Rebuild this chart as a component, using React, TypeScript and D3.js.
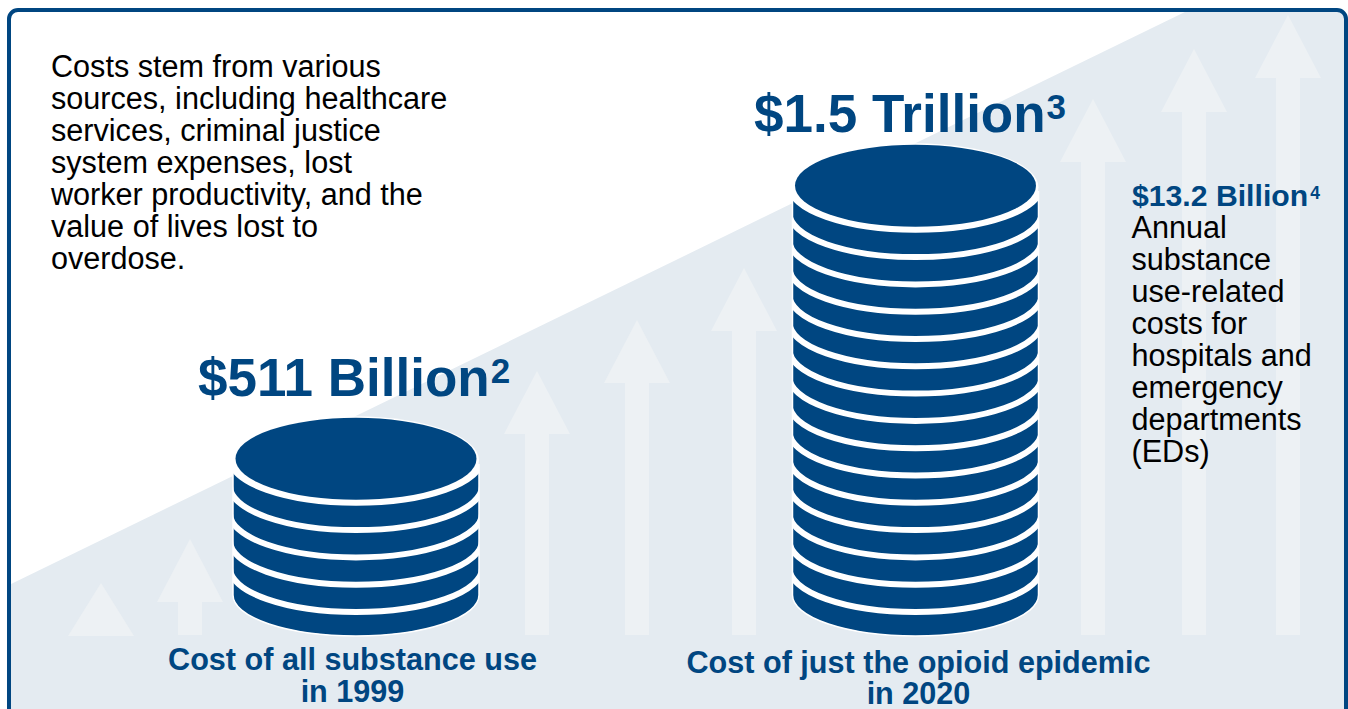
import React from "react";
import * as d3 from "d3";

// Costs in billions of dollars; one coin in a stack stands for about 100 billion.
const stackLabels = ["$511 Billion", "$1.5 Trillion"];
const stackFootnotes = ["2", "3"];
const stackValues = [511, 1500];
const stackCaptions = [
  ["Cost of all substance use", "in 1999"],
  ["Cost of just the opioid epidemic", "in 2020"],
];
const introLines = [
  "Costs stem from various",
  "sources, including healthcare",
  "services, criminal justice",
  "system expenses, lost",
  "worker productivity, and the",
  "value of lives lost to",
  "overdose.",
];
const sideLabel = "$13.2 Billion";
const sideFootnote = "4";
const sideLines = [
  "Annual",
  "substance",
  "use-related",
  "costs for",
  "hospitals and",
  "emergency",
  "departments",
  "(EDs)",
];

// Decorative rising arrows: horizontal centre and tip height above the floor.
const arrowCentres = [101, 190, 537, 637, 744, 1093, 1194, 1288];
const arrowHeights = [53, 97, 265, 316, 368, 537, 587, 621];

const NAVY = "#004681";
const WASH = "#e4ebf1";
const ARROW = "#edf1f4";
const FONT = "'Liberation Sans', Arial, sans-serif";

const COIN_VALUE = 100;
const coinY = d3.scaleLinear().domain([0, COIN_VALUE]).range([0, 27.3]);
const heightY = d3.scaleLinear().domain([0, 1]).range([636, 635]);

const STACK_CENTRES = [356, 915.5];
const CAPTION_CENTRES = [352.5, 918.5];
const CAPTION_BASELINES = [670, 672.5];
const HEADING_X = [198, 754];
const HEADING_BASELINES = [396, 132];

function Arrow({ cx, height }: { cx: number; height: number }) {
  const tip = heightY(height);
  const base = tip + 63;
  const half = 33;
  const shaft = 12;
  const floor = 635;
  const path = d3.path();
  path.moveTo(cx, tip);
  path.lineTo(cx + half, Math.min(base, 636));
  if (base < floor - 2) {
    path.lineTo(cx + shaft, base);
    path.lineTo(cx + shaft, floor);
    path.lineTo(cx - shaft, floor);
    path.lineTo(cx - shaft, base);
  }
  path.lineTo(cx - half, Math.min(base, 636));
  path.closePath();
  return <path d={path.toString()} fill={ARROW} />;
}

function CoinStack({ value, cx, id }: { value: number; cx: number; id: string }) {
  const coins = Math.round(value / COIN_VALUE);
  const lowestGroove = 612;
  const rx = 123;
  const grooves = d3.range(coins).map((i) => lowestGroove - coinY(i * COIN_VALUE));
  const topGroove = grooves[grooves.length - 1];
  const capCy = topGroove - 44;
  const body = `M${cx - rx},${capCy + 6} V595 A${rx},41 0 0 0 ${cx + rx},595 V${capCy + 6} Z`;
  return (
    <g>
      <clipPath id={id}>
        <path d={body} />
      </clipPath>
      <path d={body} fill={NAVY} stroke="#fff" strokeWidth={1.5} />
      <g clipPath={`url(#${id})`}>
        {grooves.map((y) => (
          <path
            key={y}
            d={`M${cx - 126},${y - 44} A126,44 0 0 0 ${cx + 126},${y - 44}`}
            fill="none"
            stroke="#fff"
            strokeWidth={6}
          />
        ))}
      </g>
      <ellipse cx={cx} cy={capCy + 1.5} rx={123} ry={44} fill="#fff" />
      <ellipse cx={cx} cy={capCy} rx={120.5} ry={41} fill={NAVY} />
    </g>
  );
}

export default function App() {
  return (
    <svg
      width={1348}
      height={709}
      viewBox="0 0 1348 709"
      style={{ position: "absolute", left: 0, top: 0, background: "#fff" }}
      fontFamily={FONT}
    >
      <defs>
        <clipPath id="panel">
          <rect x={9} y={10} width={1337} height={720} rx={9} />
        </clipPath>
      </defs>
      <g clipPath="url(#panel)">
        <path d="M9,585 L1187,11 H1348 V720 H9 Z" fill={WASH} />
        {arrowCentres.map((cx, i) => (
          <Arrow key={cx} cx={cx} height={arrowHeights[i]} />
        ))}
      </g>
      <rect x={9} y={10} width={1337} height={720} rx={9} fill="none" stroke={NAVY} strokeWidth={4} />

      {stackValues.map((v, i) => (
        <CoinStack key={v} value={v} cx={STACK_CENTRES[i]} id={`stack-${i}`} />
      ))}

      <text fontSize={30.6} fill="#000">
        {introLines.map((line, i) => (
          <tspan key={line} x={51} y={77 + i * 32}>
            {line}
          </tspan>
        ))}
      </text>

      {stackLabels.map((label, i) => (
        <text key={label} x={HEADING_X[i]} y={HEADING_BASELINES[i]} fontSize={53} fontWeight={700} fill={NAVY}>
          {label}
          <tspan fontSize={35} dx={1} dy={-13}>
            {stackFootnotes[i]}
          </tspan>
        </text>
      ))}

      {stackCaptions.map((lines, i) => (
        <text key={lines[0]} textAnchor="middle" fontSize={30.6} fontWeight={700} fill={NAVY}>
          {lines.map((line, j) => (
            <tspan key={line} x={CAPTION_CENTRES[i]} y={CAPTION_BASELINES[i] + j * 31.5}>
              {line}
            </tspan>
          ))}
        </text>
      ))}

      <text x={1132} y={206} fontSize={30.2} fontWeight={700} fill={NAVY}>
        {sideLabel}
        <tspan fontSize={17.5} dx={2} dy={-7}>
          {sideFootnote}
        </tspan>
      </text>
      <text fontSize={30.6} fill="#000">
        {sideLines.map((line, i) => (
          <tspan key={line} x={1131.5} y={238 + i * 32}>
            {line}
          </tspan>
        ))}
      </text>
    </svg>
  );
}
